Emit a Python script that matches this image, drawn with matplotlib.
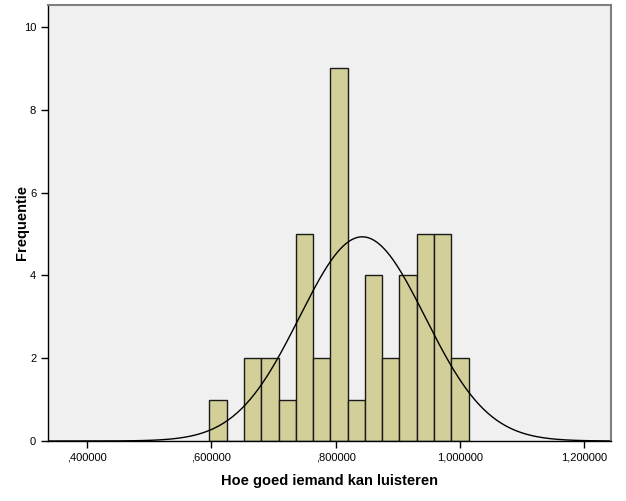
import numpy as np
import matplotlib.pyplot as plt

plt.rcParams['font.family'] = ['Liberation Sans', 'DejaVu Sans']

# histogram bins
bin_start = 0.5968
bin_width = 0.0278
counts = [1, 0, 2, 2, 1, 5, 2, 9, 1, 4, 2, 4, 5, 5, 2]

# normal curve parameters
mean_val = 0.8428
sd_val = 0.1012
n_total = sum(counts)

x_ticks = [0.4, 0.6, 0.8, 1.0, 1.2]
x_ticklabels = [',400000', ',600000', ',800000', '1,000000', '1,200000']
y_ticks = [0, 2, 4, 6, 8, 10]

fig = plt.figure(figsize=(6.26, 5.01), dpi=100)
ax = fig.add_axes([48 / 626, 60 / 501, 563 / 626, 436 / 501])
ax.set_facecolor('#F0F0F0')

edges = bin_start + bin_width * np.arange(len(counts))
ax.bar(edges, counts, width=bin_width, align='edge', color='#D3CF98',
       edgecolor='#1a1a1a', linewidth=1.0)

xs = np.linspace(0.337, 1.243, 400)
ys = n_total * bin_width / (sd_val * np.sqrt(2 * np.pi)) * np.exp(-0.5 * ((xs - mean_val) / sd_val) ** 2)
ax.plot(xs, ys, color='black', linewidth=1.0)

ax.set_xlim(0.337, 1.243)
ax.set_ylim(0, 10.53)
ax.set_xticks(x_ticks)
ax.set_xticklabels(x_ticklabels)
ax.set_yticks(y_ticks)
ax.tick_params(direction='out', length=5, width=1, labelsize=8, colors='black')

for s in ['left', 'bottom']:
    ax.spines[s].set_color('black')
    ax.spines[s].set_linewidth(1)
for s in ['top', 'right']:
    ax.spines[s].set_color('#7f7f7f')
    ax.spines[s].set_linewidth(1.5)

ax.set_xlabel('Hoe goed iemand kan luisteren', fontsize=10.5, fontweight='bold', labelpad=8)
ax.set_ylabel('Frequentie', fontsize=10.5, fontweight='bold')
ax.yaxis.set_label_coords(-0.034, 0.5)

fig.savefig('out.png', dpi=100)
